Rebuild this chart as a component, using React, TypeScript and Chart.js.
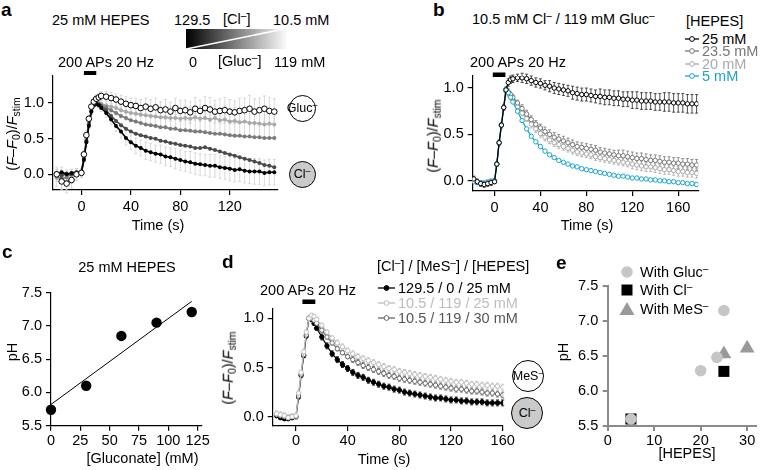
import React, { useEffect, useRef } from "react";
import { Chart, registerables } from "chart.js";
Chart.register(...registerables);

const FONT = "'Liberation Sans', Arial, Helvetica, sans-serif";
const TICK_SIZE = 14.5;
const TEXT_SIZE = 14.5;

// ---------------- Panel a ----------------
const A_TIME = [-20,-16,-12,-8,-4,0,2,4,6,8,10,12,14,16,20,24,28,32,36,40,44,48,52,56,60,64,68,72,76,80,84,88,92,96,100,104,108,112,116,120,124,128,132,136,140,144,148,152,156];
const A_GLUC = [0.0,-0.1,-0.13,-0.08,0.0, 0.02,0.28,0.55,0.78,0.95,1.02,1.06,1.08,1.1, 1.09,1.07,1.05,1.02,0.99,0.97,0.96,0.93,0.95,0.92, 0.94,0.9,0.91,0.88,0.93,0.89,0.9,0.87,0.92,0.89, 0.93,0.91,0.88,0.89,0.9,0.88,0.87,0.89,0.9,0.92, 0.88,0.9,0.92,0.89,0.88];
const A_CL = [0.01,0.03,0.0,0.02,0.03, 0.04,0.2,0.45,0.68,0.88,0.97,0.99,0.97,0.93, 0.86,0.77,0.68,0.6,0.51,0.45,0.4,0.37,0.33,0.31, 0.29,0.28,0.25,0.24,0.22,0.2,0.18,0.17,0.15,0.14, 0.13,0.12,0.12,0.1,0.09,0.08,0.06,0.07,0.05,0.04, 0.04,0.04,0.02,0.03,0.03];
const A_DARK = [0.02,-0.02,0.01,0.0,0.02, 0.03,0.22,0.47,0.7,0.89,0.97,0.99,0.98,0.96, 0.9,0.82,0.75,0.69,0.64,0.6,0.57,0.55,0.53,0.51, 0.5,0.47,0.46,0.44,0.43,0.41,0.4,0.39,0.37,0.37, 0.38,0.36,0.34,0.32,0.3,0.28,0.26,0.24,0.22,0.2, 0.18,0.16,0.13,0.12,0.1];
const A_MID = [-0.03,-0.06,-0.04,0.01,0.0, 0.02,0.22,0.46,0.7,0.88,0.97,0.99,0.99,0.97, 0.94,0.9,0.86,0.82,0.79,0.76,0.74,0.72,0.7,0.69, 0.68,0.66,0.66,0.64,0.64,0.62,0.62,0.61,0.6,0.6, 0.59,0.58,0.57,0.57,0.56,0.55,0.54,0.54,0.53,0.53, 0.52,0.52,0.51,0.51,0.51];
const A_LIGHT = [-0.05,-0.08,-0.1,-0.03,0.0, 0.02,0.25,0.5,0.73,0.9,0.98,1.0,1.0,0.99, 0.97,0.95,0.93,0.9,0.88,0.86,0.85,0.84,0.83,0.82, 0.81,0.8,0.8,0.79,0.79,0.78,0.79,0.78,0.8,0.78, 0.79,0.77,0.79,0.76,0.77,0.74,0.75,0.73,0.74,0.72, 0.72,0.71,0.7,0.71,0.7];
const A_GLUC_ERR = [0.1,0.12,0.13,0.11,0.08, 0.06,0.06,0.06,0.05,0.05,0.05,0.05,0.06,0.06, 0.07,0.08,0.08,0.09,0.1,0.1,0.11,0.12,0.12,0.13, 0.13,0.12,0.14,0.13,0.14,0.15,0.14,0.15,0.16,0.15, 0.16,0.17,0.16,0.17,0.18,0.17,0.16,0.18,0.17,0.19, 0.18,0.17,0.18,0.19,0.18];
const A_LIGHT_ERR = [0.12,0.14,0.12,0.1,0.08, 0.06,0.07,0.07,0.06,0.06,0.05,0.05,0.06,0.07, 0.08,0.09,0.1,0.11,0.12,0.12,0.13,0.13,0.14,0.14, 0.15,0.15,0.16,0.15,0.16,0.16,0.17,0.16,0.17,0.17, 0.18,0.17,0.18,0.18,0.19,0.18,0.19,0.19,0.2,0.19, 0.2,0.2,0.19,0.2,0.2];
const A_CL_ERR = [0.06,0.07,0.06,0.05,0.05, 0.04,0.05,0.05,0.04,0.04,0.04,0.04,0.04,0.05, 0.06,0.07,0.08,0.09,0.1,0.1,0.11,0.11,0.12,0.12, 0.12,0.13,0.13,0.13,0.14,0.14,0.14,0.15,0.15,0.15, 0.15,0.16,0.16,0.16,0.16,0.17,0.17,0.17,0.17,0.17, 0.18,0.18,0.18,0.18,0.18];
const A_X_TICKS = [0, 40, 80, 120];
const A_Y_TICKS = [0, 0.5, 1.0];
const A_STIM = [2, 12];

// ---------------- Panel b ----------------
const B_TIME = [-18,-15,-12,-9,-6,-3, 0,2,4,6,8,10,12,14, 16,20,24,28,32,36,40,44,48,52,56,60,64,68,72,76,80,84,88,92,96,100,104,108,112,116,120,124,128,132,136,140,144,148,152,156,160,164,168,172,176];
const B_25 = [0.02,-0.01,-0.03,-0.04,-0.03,-0.02, -0.01,0.18,0.41,0.6,0.79,0.98,1.06,1.09, 1.1,1.11,1.11,1.1,1.08,1.06,1.05,1.03,1.02,1.0, 0.99,0.98,0.97,0.95,0.94,0.93,0.93,0.92,0.91,0.91, 0.9,0.9,0.89,0.89,0.88,0.88,0.87,0.87,0.86,0.86, 0.86,0.85,0.85,0.85,0.85,0.84,0.84,0.84,0.83,0.83, 0.83];
const B_23 = [0.01,-0.02,-0.02,-0.03,-0.02,-0.01, 0.0,0.18,0.41,0.6,0.79,0.97,0.96,0.93, 0.9,0.84,0.78,0.72,0.66,0.61,0.57,0.53,0.5,0.47, 0.45,0.43,0.41,0.39,0.37,0.36,0.35,0.34,0.33,0.31, 0.3,0.29,0.28,0.27,0.27,0.26,0.25,0.24,0.24,0.23, 0.22,0.22,0.21,0.2,0.2,0.19,0.19,0.18,0.18,0.17, 0.17];
const B_20 = [0.0,-0.01,-0.02,-0.02,-0.01,0.0, 0.0,0.18,0.41,0.6,0.79,0.97,0.94,0.91, 0.87,0.8,0.73,0.67,0.61,0.56,0.51,0.47,0.44,0.41, 0.39,0.37,0.35,0.33,0.31,0.3,0.29,0.28,0.26,0.25, 0.24,0.23,0.22,0.21,0.2,0.19,0.18,0.17,0.16,0.15, 0.15,0.14,0.13,0.12,0.12,0.11,0.1,0.1,0.09,0.09, 0.08];
const B_5 = [-0.01,-0.02,-0.02,-0.03,-0.02,-0.01, 0.0,0.18,0.41,0.6,0.79,0.99,0.95,0.9, 0.85,0.75,0.65,0.56,0.48,0.42,0.37,0.32,0.28,0.25, 0.22,0.2,0.18,0.16,0.15,0.13,0.12,0.11,0.1,0.09, 0.08,0.07,0.06,0.05,0.05,0.04,0.03,0.03,0.02,0.02, 0.01,0.01,0.0,0.0,-0.01,-0.01,-0.02,-0.02,-0.03,-0.03, -0.04];
const B_25_ERR = [0.03,0.03,0.03,0.03,0.03,0.03, 0.02,0.02,0.03,0.03,0.03,0.03,0.04,0.04, 0.04,0.04,0.05,0.05,0.05,0.05,0.05,0.05,0.06,0.06, 0.06,0.06,0.06,0.07,0.07,0.07,0.07,0.07,0.07,0.08, 0.08,0.08,0.08,0.08,0.08,0.08,0.09,0.09,0.09,0.09, 0.09,0.09,0.09,0.1,0.1,0.1,0.1,0.1,0.1,0.1, 0.1];
const B_23_ERR = [0.02,0.02,0.02,0.02,0.02,0.02, 0.02,0.02,0.02,0.02,0.02,0.02,0.03,0.03, 0.03,0.03,0.04,0.04,0.04,0.04,0.04,0.05,0.05,0.05, 0.05,0.05,0.05,0.05,0.05,0.05,0.05,0.05,0.05,0.05, 0.05,0.05,0.05,0.06,0.06,0.06,0.06,0.06,0.06,0.06, 0.06,0.06,0.06,0.06,0.06,0.06,0.06,0.06,0.06,0.06, 0.06];
const B_20_ERR = [0.02,0.02,0.02,0.02,0.02,0.02, 0.02,0.02,0.02,0.02,0.02,0.02,0.03,0.03, 0.03,0.03,0.03,0.03,0.04,0.04,0.04,0.04,0.04,0.04, 0.04,0.04,0.04,0.04,0.04,0.04,0.04,0.04,0.04,0.04, 0.04,0.04,0.04,0.04,0.04,0.04,0.05,0.05,0.05,0.05, 0.05,0.05,0.05,0.05,0.05,0.05,0.05,0.05,0.05,0.05, 0.05];
const B_X_TICKS = [0, 40, 80, 120, 160];
const B_Y_TICKS = [0, 0.5, 1.0];
const B_STIM = [-1.5, 9.5];

// ---------------- Panel c ----------------
const C_GLUCONATE = [0, 30, 60, 90, 120];
const C_PH = [5.74, 6.1, 6.85, 7.05, 7.21];
const C_FIT_X = [0, 120];
const C_FIT_Y = [5.82, 7.37];
const C_X_TICKS = [0, 25, 50, 75, 100, 125];
const C_Y_TICKS = [5.5, 6.0, 6.5, 7.0, 7.5];

// ---------------- Panel d ----------------
const D_TIME = [-15,-12,-9,-6,-3, 0,2,4,6,8,10,12,14, 16,20,24,28,32,36,40,44,48,52,56,60,64,68,72,76,80,84,88,92,96,100,104,108,112,116,120,124,128,132,136,140,144,148,152,156,160];
const D_CL = [0.01,-0.01,-0.02,-0.02,-0.01, 0.0,0.2,0.42,0.62,0.82,1.0,0.99,0.95, 0.9,0.81,0.72,0.64,0.58,0.53,0.49,0.45,0.42,0.4, 0.37,0.35,0.33,0.31,0.3,0.28,0.27,0.25,0.24,0.23, 0.22,0.21,0.2,0.19,0.19,0.18,0.17,0.17,0.16,0.16, 0.15,0.15,0.15,0.14,0.14,0.14,0.14];
const D_MES25 = [0.03,0.02,0.01,-0.01,0.0, 0.01,0.24,0.45,0.66,0.86,1.0,1.03,1.02, 0.99,0.93,0.86,0.8,0.75,0.71,0.67,0.64,0.61,0.59, 0.57,0.55,0.53,0.51,0.49,0.48,0.46,0.45,0.44,0.43, 0.42,0.41,0.4,0.39,0.38,0.37,0.36,0.35,0.35,0.34, 0.33,0.33,0.32,0.32,0.31,0.31,0.3];
const D_MES30 = [0.02,0.01,0.0,-0.01,0.0, 0.0,0.21,0.43,0.63,0.83,1.0,1.0,0.98, 0.95,0.88,0.81,0.75,0.69,0.65,0.61,0.58,0.55,0.52, 0.5,0.48,0.46,0.44,0.42,0.41,0.39,0.38,0.37,0.36, 0.35,0.34,0.33,0.32,0.31,0.3,0.29,0.28,0.28,0.27, 0.26,0.26,0.25,0.24,0.24,0.23,0.22];
const D_CL_ERR = [0.02,0.02,0.02,0.02,0.02, 0.02,0.02,0.02,0.02,0.02,0.02,0.02,0.02, 0.02,0.03,0.03,0.03,0.03,0.03,0.03,0.03,0.03,0.03, 0.03,0.03,0.03,0.03,0.03,0.03,0.03,0.03,0.03,0.03, 0.03,0.03,0.03,0.03,0.03,0.03,0.03,0.03,0.03,0.03, 0.03,0.03,0.03,0.03,0.03,0.03,0.03];
const D_MES25_ERR = [0.03,0.03,0.03,0.03,0.03, 0.02,0.02,0.02,0.02,0.02,0.02,0.02,0.02, 0.02,0.02,0.02,0.02,0.03,0.03,0.03,0.03,0.03,0.03, 0.03,0.03,0.03,0.03,0.03,0.03,0.03,0.03,0.03,0.03, 0.03,0.03,0.03,0.03,0.03,0.03,0.03,0.03,0.03,0.03, 0.03,0.03,0.03,0.03,0.03,0.03,0.03];
const D_MES30_ERR = [0.02,0.02,0.02,0.02,0.02, 0.02,0.02,0.02,0.02,0.02,0.02,0.02,0.02, 0.02,0.02,0.02,0.02,0.02,0.02,0.02,0.03,0.03,0.03, 0.03,0.03,0.03,0.03,0.03,0.03,0.03,0.03,0.03,0.03, 0.03,0.03,0.03,0.03,0.03,0.03,0.03,0.03,0.03,0.03, 0.03,0.03,0.03,0.03,0.03,0.03,0.03];
const D_X_TICKS = [0, 40, 80, 120, 160];
const D_Y_TICKS = [0, 0.5, 1.0];
const D_STIM = [5, 15];

// ---------------- Panel e ----------------
const E_GLUC_HEPES = [5, 20, 23.5, 25];
const E_GLUC_PH = [5.6, 6.29, 6.48, 7.15];
const E_CL_HEPES = [5, 25];
const E_CL_PH = [5.6, 6.28];
const E_MES_HEPES = [25, 30];
const E_MES_PH = [6.53, 6.61];
const E_X_TICKS = [0, 10, 20, 30];
const E_Y_TICKS = [5.5, 6.0, 6.5, 7.0, 7.5];

// ---------------- helpers ----------------
const pts = (xs: number[], ys: number[]) => xs.map((x, i) => ({ x, y: ys[i] }));
const f1 = (v: number) => v.toFixed(1);
const f0 = (v: number) => String(v);

const errorBars = {
  id: "errorBars",
  beforeDatasetsDraw(chart: any) {
    const ctx = chart.ctx;
    const ys = chart.scales.y;
    ctx.save();
    chart.data.datasets.forEach((ds: any, di: number) => {
      if (!ds.err) return;
      const meta = chart.getDatasetMeta(di);
      ctx.strokeStyle = ds.errColor;
      ctx.lineWidth = ds.errWidth || 0.8;
      ctx.beginPath();
      meta.data.forEach((el: any, i: number) => {
        const v = ds.data[i].y;
        const e = ds.err[i];
        const y1 = ys.getPixelForValue(v + e);
        const y2 = ys.getPixelForValue(v - e);
        const x = el.x;
        const c = 1.5;
        ctx.moveTo(x, y1); ctx.lineTo(x, y2);
        ctx.moveTo(x - c, y1); ctx.lineTo(x + c, y1);
        ctx.moveTo(x - c, y2); ctx.lineTo(x + c, y2);
      });
      ctx.stroke();
    });
    ctx.restore();
  },
};

const stimBar = (range: number[], dy: number, h: number) => ({
  id: "stimBar",
  afterDraw(chart: any) {
    const xs = chart.scales.x;
    const top = chart.chartArea.top;
    const x0 = xs.getPixelForValue(range[0]);
    const x1 = xs.getPixelForValue(range[1]);
    chart.ctx.save();
    chart.ctx.fillStyle = "#000";
    chart.ctx.fillRect(x0, top - dy, x1 - x0, h);
    chart.ctx.restore();
  },
});

function axis(min: number, max: number, ticks: number[], fmt: (v: number) => string, size: number, isY: boolean, pad: number, color = "#000", bw = 1.2) {
  return {
    type: "linear",
    min,
    max,
    afterBuildTicks: (s: any) => { s.ticks = ticks.map((v) => ({ value: v })); },
    afterFit: (s: any) => { if (isY) s.width = size; else s.height = size; },
    grid: { display: true, drawOnChartArea: false, drawTicks: true, tickLength: 5, color, lineWidth: bw },
    border: { display: true, color, width: bw },
    ticks: { color: "#000", font: { family: FONT, size: TICK_SIZE }, padding: pad, autoSkip: false, maxRotation: 0, callback: (v: any) => fmt(Number(v)) },
  };
}

type Geo = { left: number; top: number; width: number; height: number; l: number; t: number; r: number; b: number; xPad: number; yPad: number };

function makeConfig(g: Geo, datasets: any[], xr: number[], xt: number[], xf: any, yr: number[], yt: number[], yf: any, extra: any[], color = "#000", bw = 1.2) {
  return {
    type: "scatter",
    data: { datasets },
    options: {
      responsive: false,
      maintainAspectRatio: false,
      animation: false,
      events: [],
      layout: { padding: { left: 0, top: g.t - g.top, right: g.left + g.width - g.r, bottom: 0 } },
      plugins: { legend: { display: false }, tooltip: { enabled: false }, title: { display: false } },
      scales: {
        x: axis(xr[0], xr[1], xt, xf, g.top + g.height - g.b, false, g.xPad, color, bw),
        y: axis(yr[0], yr[1], yt, yf, g.l - g.left, true, g.yPad, color, bw),
      },
    },
    plugins: [errorBars, ...extra],
  };
}

function Panel({ g, config }: { g: Geo; config: () => any }) {
  const ref = useRef<HTMLCanvasElement>(null);
  useEffect(() => {
    const chart = new Chart(ref.current as HTMLCanvasElement, config());
    return () => chart.destroy();
  }, []);
  return <canvas ref={ref} width={g.width} height={g.height} style={{ position: "absolute", left: g.left, top: g.top, width: g.width, height: g.height }} />;
}

function Txt({ x, y, align = "left", size = TEXT_SIZE, bold = false, color = "#000", rot = false, children }: any) {
  const tx = align === "left" ? "0" : align === "center" ? "-50%" : "-100%";
  return (
    <div style={{ position: "absolute", left: x, top: y, transform: rot ? "translate(-50%,-50%) rotate(-90deg)" : `translate(${tx},-50%)`, fontFamily: FONT, fontSize: size, fontWeight: bold ? "bold" : "normal", color, whiteSpace: "nowrap", lineHeight: 1 }}>
      {children}
    </div>
  );
}

const Sup = () => <sup style={{ fontSize: "0.7em", verticalAlign: "0.5em", lineHeight: 0 }}>–</sup>;
const Sub = ({ children }: any) => <sub style={{ fontSize: "0.72em", verticalAlign: "-0.3em", lineHeight: 0 }}>{children}</sub>;
const YTitle = () => (<span>(<i>F</i>–<i>F</i><Sub>0</Sub>)/<i>F</i><Sub>stim</Sub></span>);

function Ion({ x, y, r, fill, children }: any) {
  return (
    <div style={{ position: "absolute", left: x - r, top: y - r, width: 2 * r, height: 2 * r, borderRadius: "50%", border: "1.4px solid #000", background: fill, boxSizing: "border-box", display: "flex", alignItems: "center", justifyContent: "center", fontFamily: FONT, fontSize: 12.5 }}>
      <span>{children}</span>
    </div>
  );
}

function LineMarker({ x, y, w, color, filled }: any) {
  return (
    <svg style={{ position: "absolute", left: x, top: y - 4 }} width={w} height={8}>
      <line x1={0} y1={4} x2={w} y2={4} stroke={color} strokeWidth={1.3} />
      <circle cx={w / 2} cy={4} r={2.4} fill={filled ? color : "#fff"} stroke={color} strokeWidth={1} />
    </svg>
  );
}

// geometry (canvas box + chart area)
const GA: Geo = { left: 0, top: 60, width: 300, height: 175, l: 53, t: 76, r: 278, b: 190, xPad: 3.5, yPad: 4 };
const GB: Geo = { left: 420, top: 60, width: 300, height: 175, l: 472.7, t: 76, r: 698.3, b: 191, xPad: 3, yPad: 4 };
const GC: Geo = { left: 0, top: 270, width: 215, height: 200, l: 51, t: 292.7, r: 201.7, b: 425.7, xPad: 2, yPad: 4 };
const GD: Geo = { left: 225, top: 290, width: 300, height: 180, l: 272.7, t: 309, r: 502.7, b: 426, xPad: 1.5, yPad: 4 };
const GE: Geo = { left: 565, top: 270, width: 199, height: 200, l: 607.7, t: 286, r: 762, b: 426, xPad: 1, yPad: 4.5 };

const cfgA = () => makeConfig(GA, [
  { data: pts(A_TIME, A_GLUC), showLine: false, pointRadius: 2.8, pointBackgroundColor: "#fff", pointBorderColor: "#000", pointBorderWidth: 1, err: A_GLUC_ERR, errColor: "#cfcfcf" },
  { data: pts(A_TIME, A_CL), showLine: true, borderColor: "#000", borderWidth: 1.6, pointRadius: 2, pointBackgroundColor: "#000", pointBorderWidth: 0, err: A_CL_ERR, errColor: "#cfcfcf" },
  { data: pts(A_TIME, A_DARK), showLine: true, borderColor: "#4a4a4a", borderWidth: 1.6, pointRadius: 2, pointBackgroundColor: "#4a4a4a", pointBorderWidth: 0 },
  { data: pts(A_TIME, A_MID), showLine: true, borderColor: "#7b7b7b", borderWidth: 1.6, pointRadius: 2, pointBackgroundColor: "#7b7b7b", pointBorderWidth: 0 },
  { data: pts(A_TIME, A_LIGHT), showLine: true, borderColor: "#a9a9a9", borderWidth: 1.6, pointRadius: 2, pointBackgroundColor: "#a9a9a9", pointBorderWidth: 0, err: A_LIGHT_ERR, errColor: "#cfcfcf" },
], [-23, 159], A_X_TICKS, f0, [-0.22, 1.38], A_Y_TICKS, f1, [stimBar(A_STIM, 5, 4)]);

const CYAN = "#19a4cc";
const cfgB = () => makeConfig(GB, [
  { data: pts(B_TIME, B_25), showLine: true, borderColor: "#000", borderWidth: 1.3, pointRadius: 2.2, pointBackgroundColor: "#fff", pointBorderColor: "#000", pointBorderWidth: 1, err: B_25_ERR, errColor: "#222" },
  { data: pts(B_TIME, B_5), showLine: true, borderColor: CYAN, borderWidth: 1.2, pointRadius: 2.2, pointBackgroundColor: "#fff", pointBorderColor: CYAN, pointBorderWidth: 1 },
  { data: pts(B_TIME, B_23), showLine: true, borderColor: "#777", borderWidth: 1.2, pointRadius: 2.2, pointBackgroundColor: "#fff", pointBorderColor: "#777", pointBorderWidth: 1, err: B_23_ERR, errColor: "#777" },
  { data: pts(B_TIME, B_20), showLine: true, borderColor: "#aaa", borderWidth: 1.2, pointRadius: 2.2, pointBackgroundColor: "#fff", pointBorderColor: "#aaa", pointBorderWidth: 1, err: B_20_ERR, errColor: "#aaa" },
], [-19, 177.5], B_X_TICKS, f0, [-0.11, 1.13], B_Y_TICKS, f1, [stimBar(B_STIM, 3.5, 4.5)]);

const cfgC = () => makeConfig(GC, [
  { data: pts(C_GLUCONATE, C_PH), showLine: false, pointRadius: 5.2, pointBackgroundColor: "#000", pointBorderWidth: 0, clip: false },
  { data: pts(C_FIT_X, C_FIT_Y), showLine: true, borderColor: "#000", borderWidth: 1, pointRadius: 0, clip: false },
], [0, 128.5], C_X_TICKS, f0, [5.5, 7.5], C_Y_TICKS, f1, []);

const cfgD = () => makeConfig(GD, [
  { data: pts(D_TIME, D_MES25), showLine: true, borderColor: "#bdbdbd", borderWidth: 1.2, pointRadius: 2.2, pointBackgroundColor: "#fff", pointBorderColor: "#bdbdbd", pointBorderWidth: 1, err: D_MES25_ERR, errColor: "#bdbdbd" },
  { data: pts(D_TIME, D_MES30), showLine: true, borderColor: "#666", borderWidth: 1.2, pointRadius: 2.2, pointBackgroundColor: "#fff", pointBorderColor: "#666", pointBorderWidth: 1, err: D_MES30_ERR, errColor: "#666" },
  { data: pts(D_TIME, D_CL), showLine: true, borderColor: "#000", borderWidth: 1.2, pointRadius: 2.2, pointBackgroundColor: "#000", pointBorderColor: "#000", pointBorderWidth: 1, err: D_CL_ERR, errColor: "#000" },
], [-18, 160], D_X_TICKS, f0, [-0.095, 1.095], D_Y_TICKS, f1, [stimBar(D_STIM, 9.5, 4.5)]);

const cfgE = () => makeConfig(GE, [
  { data: pts(E_GLUC_HEPES, E_GLUC_PH), pointStyle: "circle", pointRadius: 5.8, pointBackgroundColor: "#c6c6c6", pointBorderWidth: 0, clip: false },
  { data: pts(E_CL_HEPES, E_CL_PH), pointStyle: "rect", pointRadius: 7.8, pointBackgroundColor: "#000", pointBorderWidth: 0, clip: false },
  { data: pts(E_MES_HEPES, E_MES_PH), pointStyle: "triangle", pointRadius: 8.5, pointBackgroundColor: "#999", pointBorderWidth: 0, clip: false },
], [0, 31.8], E_X_TICKS, f0, [5.5, 7.5], E_Y_TICKS, f1, [], "#8a8a8a", 2);

export default function App() {
  return (
    <div style={{ position: "fixed", left: 0, top: 0, width: 764, height: 470, background: "#fff", overflow: "hidden", fontFamily: FONT }}>
      <Panel g={GA} config={cfgA} />
      <Panel g={GB} config={cfgB} />
      <Panel g={GC} config={cfgC} />
      <Panel g={GD} config={cfgD} />
      <Panel g={GE} config={cfgE} />

      {/* Panel a */}
      <Txt x={1} y={9} size={19} bold>a</Txt>
      <Txt x={52} y={20}>25 mM HEPES</Txt>
      <Txt x={174} y={20}>129.5</Txt>
      <Txt x={223} y={19}>[Cl<Sup />]</Txt>
      <Txt x={273} y={20}>10.5 mM</Txt>
      <svg style={{ position: "absolute", left: 186, top: 29 }} width={102} height={20}>
        <defs>
          <linearGradient id="gradA" x1="0" x2="1" y1="0" y2="0">
            <stop offset="0" stopColor="#000" />
            <stop offset="1" stopColor="#fff" />
          </linearGradient>
        </defs>
        <rect x={0} y={0} width={102} height={20} fill="url(#gradA)" />
        <line x1={0} y1={20} x2={98} y2={0} stroke="#fff" strokeWidth={1.6} />
      </svg>
      <Txt x={189} y={62}>0</Txt>
      <Txt x={218} y={61}>[Gluc<Sup />]</Txt>
      <Txt x={274} y={62}>119 mM</Txt>
      <Txt x={58} y={62}>200 APs 20 Hz</Txt>
      <Txt x={12} y={134} rot><YTitle /></Txt>
      <Txt x={158} y={225} align="center">Time (s)</Txt>
      <Ion x={302} y={108} r={13.5} fill="#fff">Gluc<Sup /></Ion>
      <Ion x={302} y={174} r={13.5} fill="#cacaca">Cl<Sup /></Ion>

      {/* Panel b */}
      <Txt x={433} y={9} size={19} bold>b</Txt>
      <Txt x={472} y={19}>10.5 mM Cl<Sup /> / 119 mM Gluc<Sup /></Txt>
      <Txt x={686} y={21}>[HEPES]</Txt>
      <LineMarker x={685} y={38.5} w={14} color="#000" />
      <Txt x={702} y={38.5} color="#000">25 mM</Txt>
      <LineMarker x={685} y={51} w={14} color="#777" />
      <Txt x={702} y={51} color="#777">23.5 mM</Txt>
      <LineMarker x={685} y={63.5} w={14} color="#aaa" />
      <Txt x={702} y={63.5} color="#aaa">20 mM</Txt>
      <LineMarker x={685} y={76} w={14} color={CYAN} />
      <Txt x={702} y={76} color={CYAN}>5 mM</Txt>
      <Txt x={470} y={62}>200 APs 20 Hz</Txt>
      <Txt x={433} y={136} rot><YTitle /></Txt>
      <Txt x={587} y={225} align="center">Time (s)</Txt>

      {/* Panel c */}
      <Txt x={2} y={251} size={19} bold>c</Txt>
      <Txt x={127} y={267} align="center">25 mM HEPES</Txt>
      <Txt x={12} y={352} rot>pH</Txt>
      <Txt x={142.5} y={458} align="center">[Gluconate] (mM)</Txt>

      {/* Panel d */}
      <Txt x={222} y={261} size={19} bold>d</Txt>
      <Txt x={377} y={266}>[Cl<Sup />] / [MeS<Sup />] / [HEPES]</Txt>
      <LineMarker x={378} y={287.5} w={17} color="#000" filled />
      <Txt x={398} y={287.5}>129.5 / 0 / 25 mM</Txt>
      <LineMarker x={378} y={302.5} w={17} color="#bdbdbd" />
      <Txt x={398} y={302.5} color="#bdbdbd">10.5 / 119 / 25 mM</Txt>
      <LineMarker x={378} y={317.5} w={17} color="#666" />
      <Txt x={398} y={317.5} color="#555">10.5 / 119 / 30 mM</Txt>
      <Txt x={308} y={290} align="center">200 APs 20 Hz</Txt>
      <Txt x={228} y={368} rot><YTitle /></Txt>
      <Txt x={384} y={459} align="center">Time (s)</Txt>
      <Ion x={528} y={376} r={16} fill="#fff">MeS<Sup /></Ion>
      <Ion x={527} y={413} r={16} fill="#cacaca">Cl<Sup /></Ion>

      {/* Panel e */}
      <Txt x={556} y={262} size={19} bold>e</Txt>
      <svg style={{ position: "absolute", left: 619, top: 263 }} width={16} height={56}>
        <circle cx={8} cy={9} r={5.8} fill="#c6c6c6" />
        <rect x={2.5} y={21.5} width={11} height={11} fill="#000" />
        <polygon points="8,39 15.5,52 0.5,52" fill="#999" />
      </svg>
      <Txt x={640} y={272}>With Gluc<Sup /></Txt>
      <Txt x={640} y={290}>With Cl<Sup /></Txt>
      <Txt x={640} y={309}>With MeS<Sup /></Txt>
      <Txt x={563} y={352} rot>pH</Txt>
      <Txt x={687} y={453} align="center">[HEPES]</Txt>
    </div>
  );
}
